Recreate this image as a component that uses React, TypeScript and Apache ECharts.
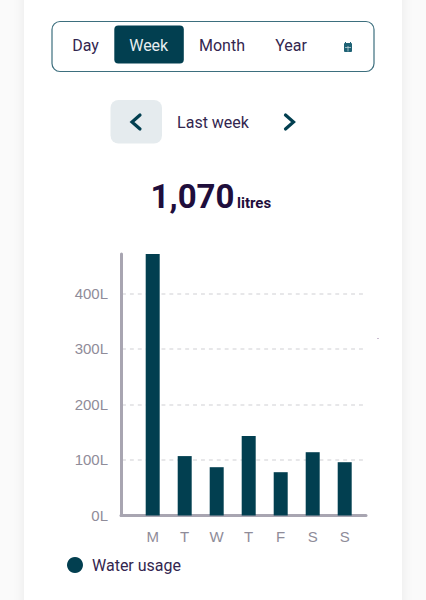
import React, { useEffect, useRef } from "react";
import * as echarts from "echarts";

const days = ["M", "T", "W", "T", "F", "S", "S"];
const waterUsage = [471, 107, 87, 143, 78, 114, 96];
const seriesName = "Water usage";
const tabs = ["Day", "Week", "Month", "Year"];
const periodLabel = "Last week";
const totalLabel = "1,070";
const unitLabel = "litres";

const UI_FONT = "Roboto, 'Noto Sans', sans-serif";
const AXIS_FONT = "'Liberation Sans', Arial, sans-serif";
const TEAL = "#023f50";
const INK = "#33264f";
const AXIS = "#a8a5b1";

const tabX = [85.5, 148.7, 222, 291];

export default function App() {
  const ref = useRef<HTMLDivElement>(null);
  useEffect(() => {
    document.body.style.margin = "0";
    const chart = echarts.init(ref.current!, null, { renderer: "svg" });
    const sharedY = { type: "value", min: 0, max: 471, interval: 100 };
    chart.setOption({
      animation: false,
      backgroundColor: "#fafafa",
      grid: [
        { left: 121, top: 254, width: 245, height: 261.5 },
        { left: 122, top: 254, width: 241, height: 261.5 },
        { left: 136.7, top: 254, width: 224, height: 261.5 },
      ],
      xAxis: [
        { type: "category", gridIndex: 0, data: [], axisTick: { show: false }, axisLabel: { show: false },
          axisLine: { lineStyle: { color: AXIS, width: 3 } } },
        { type: "value", gridIndex: 1, min: 0, max: 1, show: false },
        { type: "category", gridIndex: 2, data: days, axisTick: { show: false },
          axisLine: { show: false },
          axisLabel: { color: "#8f8c99", fontFamily: AXIS_FONT, fontSize: 15, margin: 13, interval: 0 } },
      ],
      yAxis: [
        { ...sharedY, gridIndex: 0, axisLine: { show: true, lineStyle: { color: AXIS, width: 3 } },
          axisTick: { show: false }, splitLine: { show: false }, axisLabel: { show: false } },
        { ...sharedY, gridIndex: 1, axisLine: { show: false }, axisTick: { show: false },
          splitLine: { show: true, showMinLine: false, showMaxLine: false, lineStyle: { color: "#dfdfe2", width: 1.5, type: [3.9, 4] } },
          axisLabel: { show: true, showMaxLabel: false, color: "#8f8c99", fontFamily: AXIS_FONT, fontSize: 15, margin: 14,
            formatter: (v: number) => `${v}L` } },
        { ...sharedY, gridIndex: 2, show: false, splitLine: { show: false } },
      ],
      legend: {
        show: true,
        left: 67,
        top: 557,
        padding: 0,
        icon: "circle",
        itemWidth: 16,
        itemHeight: 16,
        data: [seriesName],
        textStyle: { color: INK, fontFamily: UI_FONT, fontSize: 16, padding: [0, 0, 0, 4] },
      },
      series: [
        {
          name: seriesName,
          type: "bar",
          xAxisIndex: 2,
          yAxisIndex: 2,
          barWidth: 14,
          z: 3,
          itemStyle: { color: TEAL },
          data: waterUsage,
        },
      ],
      graphic: [
        { type: "rect", z: -10, silent: true, shape: { x: 24, y: -20, width: 378, height: 640 },
          style: { fill: "#fff", shadowBlur: 12, shadowColor: "rgba(0,0,0,0.07)" } },
        { type: "rect", shape: { x: 52, y: 21.5, width: 322, height: 50, r: 8 },
          style: { fill: "#fff", stroke: "#3d6f7e", lineWidth: 1.2 } },
        { type: "rect", shape: { x: 114.3, y: 25.5, width: 69.5, height: 38, r: 4 }, style: { fill: TEAL } },
        ...tabs.map((t, i) => ({
          type: "text", x: tabX[i], y: 45,
          style: { text: t, fill: i === 1 ? "#e8eef0" : INK, font: `16px ${UI_FONT}`, align: "center", verticalAlign: "middle" },
        })),
        // calendar icon
        { type: "rect", shape: { x: 344, y: 43, width: 8, height: 9, r: 1 }, style: { fill: "#1f6275" } },
        { type: "line", shape: { x1: 345.5, y1: 42, x2: 345.5, y2: 44 }, style: { stroke: "#1f6275", lineWidth: 1 } },
        { type: "line", shape: { x1: 350.5, y1: 42, x2: 350.5, y2: 44 }, style: { stroke: "#1f6275", lineWidth: 1 } },
        { type: "line", shape: { x1: 345, y1: 47.5, x2: 351, y2: 47.5 }, style: { stroke: "#cfe0e4", lineWidth: 0.7 } },
        { type: "line", shape: { x1: 348, y1: 46, x2: 348, y2: 51.5 }, style: { stroke: "#cfe0e4", lineWidth: 0.7 } },
        // period navigation
        { type: "rect", shape: { x: 110.5, y: 100, width: 51.5, height: 43.5, r: 8 }, style: { fill: "#e5ebee" } },
        { type: "polyline", shape: { points: [[140, 115], [132, 122], [140, 129]] },
          style: { stroke: TEAL, lineWidth: 3.2, fill: "none", lineCap: "round", lineJoin: "miter" } },
        { type: "polyline", shape: { points: [[285.5, 115], [293.5, 122], [285.5, 129]] },
          style: { stroke: TEAL, lineWidth: 3.2, fill: "none", lineCap: "round", lineJoin: "miter" } },
        { type: "text", x: 213, y: 122,
          style: { text: periodLabel, fill: INK, font: `16px ${UI_FONT}`, align: "center", verticalAlign: "middle" } },
        { type: "text", x: 192.5, y: 196,
          style: { text: totalLabel, fill: "#1f0e3c", font: `bold 33px ${UI_FONT}`, align: "center", verticalAlign: "middle" } },
        { type: "text", x: 237, y: 203,
          style: { text: unitLabel, fill: "#1f0e3c", font: `bold 15px ${UI_FONT}`, align: "left", verticalAlign: "middle" } },
        { type: "rect", shape: { x: 377, y: 338, width: 2, height: 1 }, style: { fill: "#c9bcd0" } },
      ],
    });
    return () => chart.dispose();
  }, []);
  return <div ref={ref} style={{ width: 426, height: 600 }} />;
}
